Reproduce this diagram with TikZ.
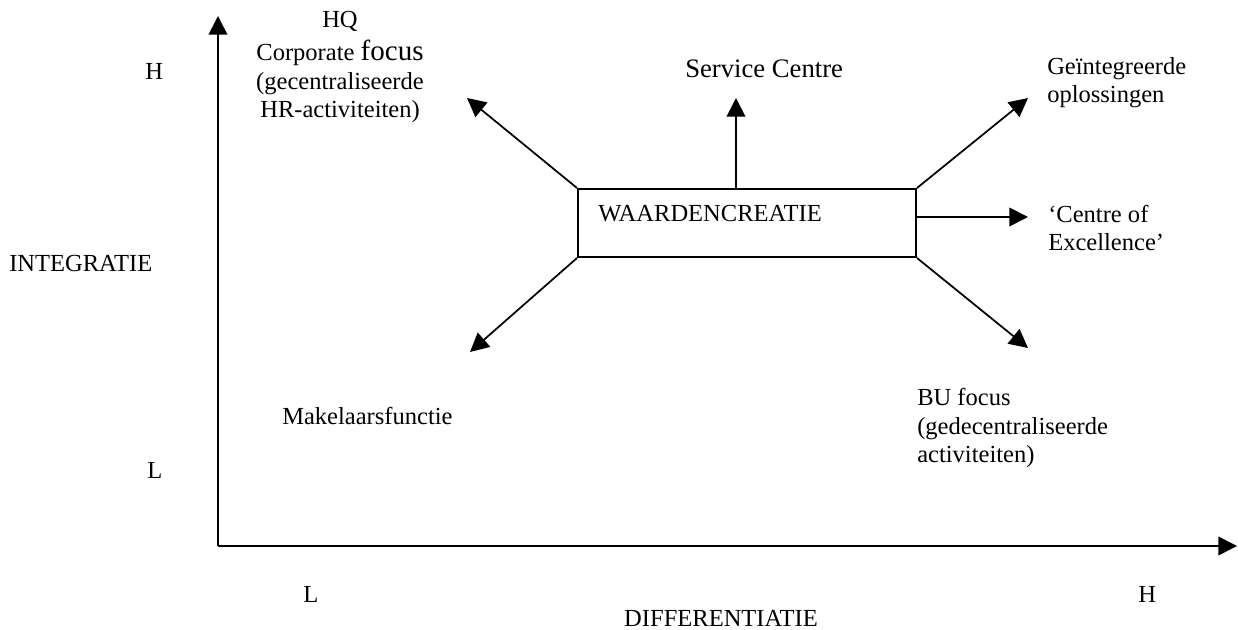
\documentclass[tikz,border=0pt]{standalone}
\usepackage{fontspec}
\setmainfont{Liberation Serif}
\usetikzlibrary{arrows.meta}
\begin{document}
\begin{tikzpicture}[x=0.75pt,y=-0.75pt,
  txt/.style={inner sep=0pt, anchor=base west, font=\fontsize{18.4}{21.6}\selectfont},
  ctxt/.style={txt, anchor=base},
  bigger/.style={font=\fontsize{20}{24}\selectfont},
  axis/.style={line width=1.2pt, -{Triangle[length=14pt,width=14pt]}},
  conn/.style={line width=1.3pt, -{Triangle[length=14pt,width=14pt]}},
  valuebox/.style={draw, line width=1.5pt, minimum width=338*0.75pt, minimum height=68*0.75pt, inner sep=0pt}]
  \useasboundingbox (0,0) rectangle (1238,630);

  % axes
  \coordinate (O) at (218,546);
  \coordinate (ytip) at (218,16);
  \coordinate (xtip) at (1237,546);
  \draw[axis] (O) -- (ytip);
  \draw[axis] (O) -- (xtip);

  % axis labels
  \node[txt] (yH) at (145,80) {H};
  \node[txt] (yL) at (147,479) {L};
  \node[txt] (ylabel) at (9,272) {INTEGRATIE};
  \node[txt] (xL) at (303,602) {L};
  \node[txt] (xH) at (1138,602) {H};
  \node[ctxt] (xlabel) at (721,626) {DIFFERENTIATIE};

  % central box
  \node[valuebox] (box) at (747,223) {};
  \node[txt] (boxtext) at (598,222) {WAARDENCREATIE};

  % outcome labels (multi-line nodes are placed by their last baseline)
  \node[ctxt, align=center] (hq) at (340,118)
    {HQ\\[3pt]Corporate {\fontsize{21.8}{24}\selectfont focus}\\(gecentraliseerde\\HR-activiteiten)};
  \node[txt, bigger] (service) at (685,78) {Service Centre};
  \node[txt, align=left] (integrated) at (1047,103) {Geïntegreerde\\oplossingen};
  \node[txt, align=left] (excellence) at (1048,251) {‘Centre of\\Excellence’};
  \node[txt] (broker) at (282,425) {Makelaarsfunctie};
  \node[txt, align=left] (bu) at (917,463) {BU focus\\(gedecentraliseerde\\activiteiten)};

  % arrow end points
  \coordinate (tHQ) at (467,98);
  \coordinate (tService) at (736,98);
  \coordinate (tInt) at (1028,98);
  \coordinate (tExc) at (1028,217);
  \coordinate (tBroker) at (470,352);
  \coordinate (tBU) at (1028,348);

  % connectors from the box
  \draw[conn] (box.north west) -- (tHQ);
  \draw[conn] ([xshift=-8.25pt]box.north) -- (tService);
  \draw[conn] (box.north east) -- (tInt);
  \draw[conn] ([yshift=4.5pt]box.east) -- (tExc);
  \draw[conn] (box.south west) -- (tBroker);
  \draw[conn] (box.south east) -- (tBU);
\end{tikzpicture}
\end{document}
